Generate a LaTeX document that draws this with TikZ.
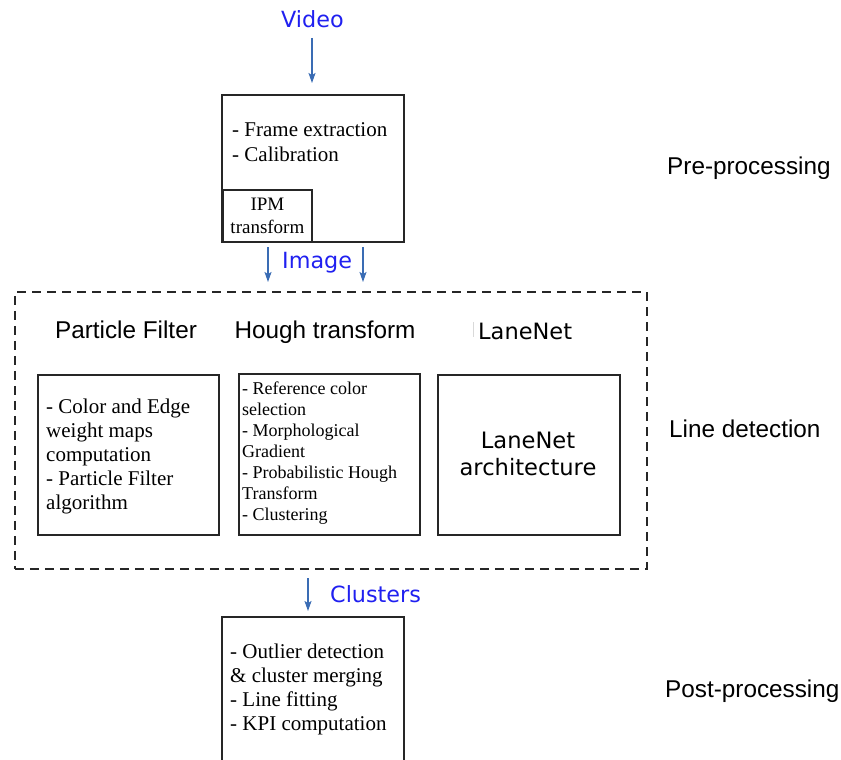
\documentclass[tikz,border=0pt]{standalone}
\usepackage{fontspec}
\setmainfont{Liberation Serif}
\newfontfamily\dejavu{DejaVu Sans}
\newfontfamily\libsans{Liberation Sans}
\usetikzlibrary{arrows.meta}
\definecolor{lblue}{HTML}{2020F0}
\definecolor{arrc}{HTML}{3A6CB4}
\definecolor{boxc}{HTML}{262626}
\begin{document}
\begin{tikzpicture}[x=1pt,y=-1pt,
  box/.style={draw=boxc, line width=1.8pt, inner sep=0pt, anchor=north west},
  btext/.style={anchor=north west, inner sep=0pt, align=left, font=\fontsize{21}{24}\selectfont},
  htext/.style={anchor=north west, inner sep=0pt, align=left, font=\fontsize{18}{21}\selectfont},
  title/.style={inner sep=0pt, font=\libsans\fontsize{24.3}{28}\selectfont},
  flow/.style={inner sep=0pt, anchor=base west, text=lblue, font=\dejavu\fontsize{22.3}{26}\selectfont},
  arr/.style={draw=arrc, line width=1.3pt, -{Stealth[length=10pt,width=7pt,inset=2pt]}, color=arrc}
]
\useasboundingbox (0,0) rectangle (841,760);
\clip (0,0) rectangle (841,760);

% labels of data flow
\node[flow] (video) at (281,28) {Video};
\node[flow] (image) at (282,268) {Image};
\node[flow] (clusters) at (330,602) {Clusters};

% pre-processing box
\node[box, minimum width=182pt, minimum height=147pt] (pre) at (221,94) {};
\node[btext, font=\fontsize{21}{25}\selectfont] (pretxt) at (232,122) {- Frame extraction\\- Calibration};
\node[box, minimum width=89pt, minimum height=52pt, align=center,
      font=\fontsize{19}{22.5}\selectfont] (ipm) at (222,189) {IPM\\transform};

% line detection frame
\node[box, dashed, dash pattern=on 9pt off 6pt, line width=1.6pt, minimum width=632pt, minimum height=277pt] (ld) at (14,291) {};

\node[title, anchor=base] (pft) at (126,338) {Particle Filter};
\node[title, anchor=base] (hft) at (325,338) {Hough transform};
\node[inner sep=0pt, anchor=base west, font=\dejavu\fontsize{22.5}{27}\selectfont] (lnt) at (478,339) {LaneNet};
\draw[gray!30, line width=0.8pt] (473,322) -- (473,337);

\node[box, minimum width=181pt, minimum height=160pt] (pf) at (37,374) {};
\node[btext] (pftxt) at (46,399) {- Color and Edge\\weight maps\\computation\\- Particle Filter\\algorithm};

\node[box, minimum width=181pt, minimum height=161pt] (hf) at (238,373) {};
\node[htext] (hftxt) at (242,382) {- Reference color\\selection\\- Morphological\\Gradient\\- Probabilistic Hough\\Transform\\- Clustering};

\node[box, minimum width=182pt, minimum height=160pt] (ln) at (437,374) {};
\node[inner sep=0pt, align=center, font=\dejavu\fontsize{22.6}{27}\selectfont] (lntxt) at (528,454) {LaneNet\\architecture};

% post-processing box
\node[box, minimum width=182pt, minimum height=170pt] (post) at (221,616) {};
\node[btext] (posttxt) at (230,644) {- Outlier detection\\\& cluster merging\\- Line fitting\\- KPI computation};

% stage names
\node[title, anchor=base west] (prel) at (667,174) {Pre-processing};
\node[title, anchor=base west] (ldl) at (669,437) {Line detection};
\node[title, anchor=base west] (postl) at (665,697) {Post-processing};

% arrows
\coordinate (v1) at (312,38);
\coordinate (v2) at (312,83);
\coordinate (i1) at (268,247);
\coordinate (i2) at (268,282);
\coordinate (i3) at (363,247);
\coordinate (i4) at (363,282);
\coordinate (c1) at (308,578);
\coordinate (c2) at (308,611);
\draw[arr] (v1) -- (v2);
\draw[arr] (i1) -- (i2);
\draw[arr] (i3) -- (i4);
\draw[arr] (c1) -- (c2);
\end{tikzpicture}
\end{document}
